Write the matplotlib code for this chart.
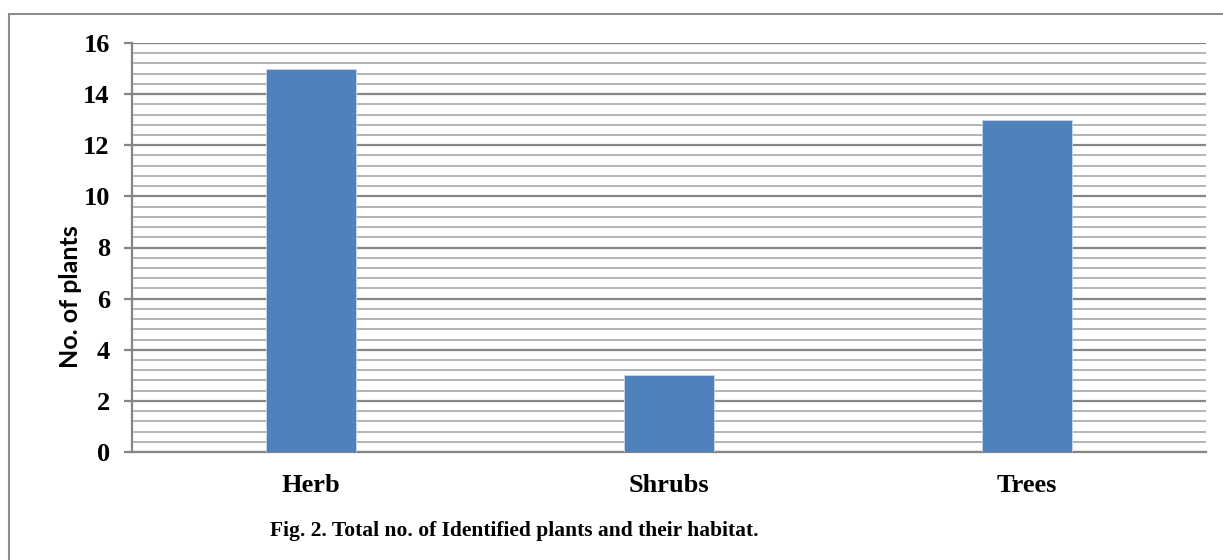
import matplotlib.pyplot as plt
from matplotlib.patches import Rectangle
from matplotlib.ticker import MultipleLocator

# data
categories = ['Herb', 'Shrubs', 'Trees']
plant_counts = [15, 3, 13]
y_ticks = [0, 2, 4, 6, 8, 10, 12, 14, 16]

bar_color = '#4F81BD'
major_grid = '#868686'
minor_grid = '#B4B4B4'

fig = plt.figure(figsize=(12.23, 5.6), dpi=100)
W, H = 1223, 560

# outer chart border (top edge at y=14px, runs off the right and bottom)
fig.patches.append(Rectangle((9 / W, -0.01), 1.1, 1.01 - 14 / H,
                             transform=fig.transFigure, fill=False,
                             edgecolor='#8C8C8C', linewidth=1.5))

ax = fig.add_axes([132 / W, 1 - 452 / H, (1206 - 132) / W, (452 - 43) / H])
x = range(len(categories))
ax.bar(x, plant_counts, width=0.25, color=bar_color, zorder=3,
       edgecolor='#C9D7EA', linewidth=0.6)

ax.set_xlim(-0.5, len(categories) - 0.5)
ax.set_ylim(0, 16)
ax.set_yticks(y_ticks)
ax.yaxis.set_minor_locator(MultipleLocator(0.4))
ax.set_xticks(list(x))
ax.set_xticklabels(categories)

ax.grid(axis='y', which='major', color=major_grid, linewidth=1.6, zorder=0)
ax.grid(axis='y', which='minor', color=minor_grid, linewidth=1.4, zorder=0)
ax.set_axisbelow(True)

for s in ['top', 'right']:
    ax.spines[s].set_visible(False)
ax.spines['left'].set_color(major_grid)
ax.spines['left'].set_linewidth(1.6)
ax.spines['bottom'].set_color(major_grid)
ax.spines['bottom'].set_linewidth(1.6)

ax.tick_params(axis='y', which='major', length=6, width=1.6, color=major_grid, pad=10)
ax.tick_params(axis='y', which='minor', length=0)
ax.tick_params(axis='x', length=0, pad=16)

for lab in ax.get_yticklabels() + ax.get_xticklabels():
    lab.set_fontfamily('Liberation Serif')
    lab.set_fontweight('bold')
    lab.set_fontsize(19)

ax.set_ylabel('No. of plants', fontfamily='Lato', fontweight='bold', fontsize=18)
# the label sits a bit below the middle of the axis in the original
ax.yaxis.set_label_coords(-0.047, 0.38)

fig.text(270 / W, 1 - 531 / H, 'Fig. 2. Total no. of Identified plants and their habitat.',
         fontfamily='Liberation Serif', fontweight='bold', fontsize=15.5,
         ha='left', va='center')

fig.savefig('out.png', dpi=100)
